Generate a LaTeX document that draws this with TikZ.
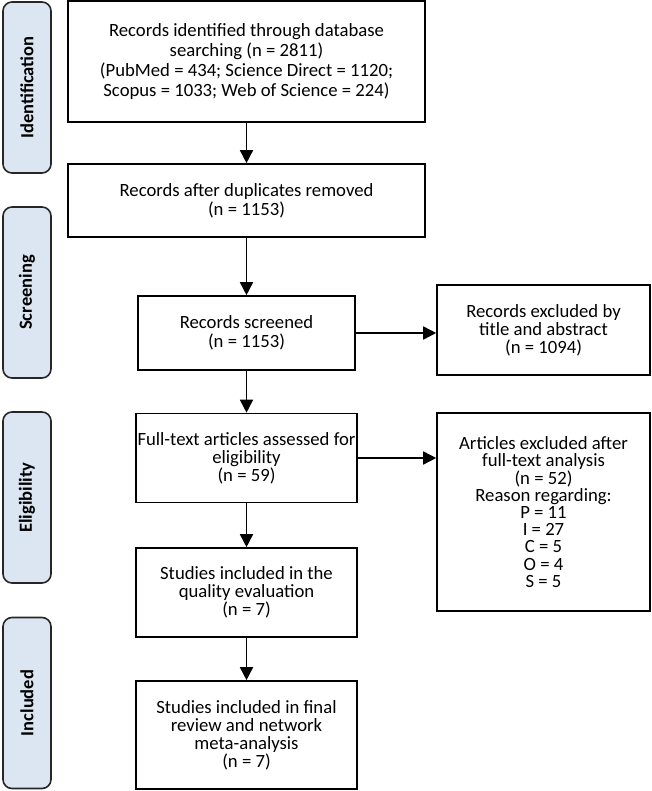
\documentclass[tikz,border=0pt]{standalone}
\usepackage{fontspec}
\setmainfont{Carlito}
\usetikzlibrary{arrows.meta}
\definecolor{phasefill}{RGB}{220,230,242}
\newcommand\boxfont[1]{\fontsize{18.7}{#1}\selectfont\lineskiplimit=-20pt\relax}

\begin{document}
\begin{tikzpicture}[x=1pt, y=-1pt,
    box/.style={draw, line width=1.6pt, align=center, inner sep=1pt, font={\boxfont{18}}},
    phase/.style={draw=black!85, line width=1.6pt, fill=phasefill, rounded corners=9pt, rotate=90,
      minimum width=171pt, minimum height=48pt, font=\fontsize{18.5}{18}\selectfont\bfseries},
    arr/.style={line width=1.6pt, -{Triangle[length=13pt,width=13pt]}}]
  \useasboundingbox (0,0) rectangle (651,791);
  % Phases
  \node[phase] (identification) at (27,87.5) {Identification};
  \node[phase] (screening) at (27,292.5) {Screening};
  \node[phase] (eligibility) at (27,497.5) {Eligibility};
  \node[phase] (included) at (27,703) {Included};
  % Main column
  \node[box, minimum width=357pt, minimum height=121pt, font={\boxfont{20}}] (found) at (246.5,61.5)
    {Records identified through database\\searching (n = 2811)\\(PubMed = 434; Science Direct = 1120;\\Scopus = 1033; Web of Science = 224)};
  \node[box, minimum width=357pt, minimum height=73pt, font={\boxfont{19}}] (dedup) at (246.5,200.5)
    {Records after duplicates removed\\(n = 1153)};
  \node[box, minimum width=217pt, minimum height=74pt, font={\boxfont{19}}] (screened) at (246.5,333)
    {Records screened\\(n = 1153)};
  \node[box, minimum width=221pt, minimum height=89pt, inner xsep=0pt] (fulltext) at (246.5,458)
    {Full-text articles assessed for\\eligibility\\(n = 59)};
  \node[box, minimum width=221pt, minimum height=89pt] (quality) at (246.5,592.5)
    {Studies included in the\\quality evaluation\\(n = 7)};
  \node[box, minimum width=221pt, minimum height=108pt] (final) at (246.5,735)
    {Studies included in final\\review and network\\meta-analysis\\(n = 7)};
  % Exclusions
  \node[box, minimum width=213pt, minimum height=90pt] (excltitle) at (543.5,330)
    {Records excluded by\\title and abstract\\(n = 1094)};
  \node[box, minimum width=213pt, minimum height=198pt, font={\boxfont{17.2}}] (exclfull) at (543.5,512)
    {Articles excluded after\\full-text analysis\\(n = 52)\\Reason regarding:\\P = 11\\I = 27\\C = 5\\O = 4\\S = 5};
  % Arrows
  \draw[arr] (found) -- (dedup);
  \draw[arr] (dedup) -- (screened);
  \draw[arr] (screened) -- (fulltext);
  \draw[arr] (fulltext) -- (quality);
  \draw[arr] (quality) -- (final);
  \draw[arr] (screened.east) -- (screened.east -| excltitle.west);
  \draw[arr] (fulltext.east) -- (fulltext.east -| exclfull.west);
\end{tikzpicture}
\end{document}
